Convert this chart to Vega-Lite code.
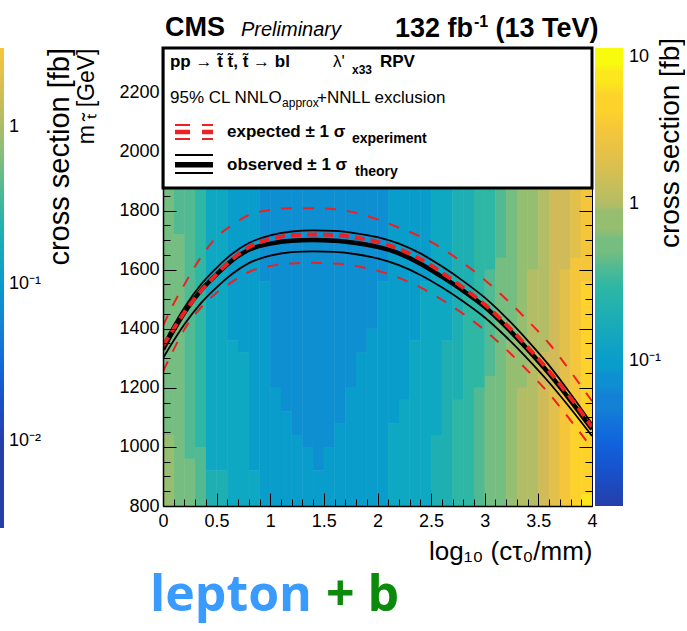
{
  "$schema": "https://vega.github.io/schema/vega-lite/v6.json",
  "padding": {"left": 0, "top": 14, "right": 0, "bottom": 12},
  "config": {
    "view": {"stroke": null},
    "font": "Liberation Sans",
    "axis": {"labelFont": "Liberation Sans", "titleFont": "Liberation Sans", "labelColor": "black", "titleColor": "black", "tickColor": "black", "domainColor": "black", "grid": false, "titleFontWeight": "normal"},
    "legend": {"labelFont": "Liberation Sans", "labelColor": "black", "padding": 0}
  },
  "datasets": {
    "heat": [
      {"x0":0,"x1":0.1,"m0":800,"m1":1040,"xs":0.798},{"x0":0,"x1":0.1,"m0":1040,"m1":1880,"xs":0.57},
      {"x0":0.1,"x1":0.2,"m0":800,"m1":1720,"xs":0.57},{"x0":0.1,"x1":0.2,"m0":1720,"m1":1880,"xs":0.407},
      {"x0":0.2,"x1":0.3,"m0":800,"m1":960,"xs":0.57},{"x0":0.2,"x1":0.3,"m0":960,"m1":1880,"xs":0.407},
      {"x0":0.3,"x1":0.4,"m0":800,"m1":1000,"xs":0.407},{"x0":0.3,"x1":0.4,"m0":1000,"m1":1880,"xs":0.29},
      {"x0":0.4,"x1":0.5,"m0":800,"m1":920,"xs":0.207},{"x0":0.4,"x1":0.5,"m0":920,"m1":1880,"xs":0.148},
      {"x0":0.5,"x1":0.6,"m0":800,"m1":920,"xs":0.207},{"x0":0.5,"x1":0.6,"m0":920,"m1":1880,"xs":0.148},
      {"x0":0.6,"x1":0.7,"m0":800,"m1":1360,"xs":0.148},{"x0":0.6,"x1":0.7,"m0":1360,"m1":1880,"xs":0.106},
      {"x0":0.7,"x1":0.8,"m0":800,"m1":1320,"xs":0.148},{"x0":0.7,"x1":0.8,"m0":1320,"m1":1880,"xs":0.106},
      {"x0":0.8,"x1":0.9,"m0":800,"m1":920,"xs":0.148},{"x0":0.8,"x1":0.9,"m0":920,"m1":1880,"xs":0.106},
      {"x0":0.9,"x1":1.0,"m0":800,"m1":1560,"xs":0.106},{"x0":0.9,"x1":1.0,"m0":1560,"m1":1880,"xs":0.0754},
      {"x0":1.0,"x1":1.1,"m0":800,"m1":1200,"xs":0.106},{"x0":1.0,"x1":1.1,"m0":1200,"m1":1880,"xs":0.0754},
      {"x0":1.1,"x1":1.2,"m0":800,"m1":1120,"xs":0.106},{"x0":1.1,"x1":1.2,"m0":1120,"m1":1880,"xs":0.0754},
      {"x0":1.2,"x1":1.3,"m0":800,"m1":1040,"xs":0.106},{"x0":1.2,"x1":1.3,"m0":1040,"m1":1880,"xs":0.0754},
      {"x0":1.3,"x1":1.4,"m0":800,"m1":1000,"xs":0.106},{"x0":1.3,"x1":1.4,"m0":1000,"m1":1880,"xs":0.0754},
      {"x0":1.4,"x1":1.5,"m0":800,"m1":920,"xs":0.106},{"x0":1.4,"x1":1.5,"m0":920,"m1":1880,"xs":0.0754},
      {"x0":1.5,"x1":1.6,"m0":800,"m1":1000,"xs":0.106},{"x0":1.5,"x1":1.6,"m0":1000,"m1":1880,"xs":0.0754},
      {"x0":1.6,"x1":1.7,"m0":800,"m1":1080,"xs":0.106},{"x0":1.6,"x1":1.7,"m0":1080,"m1":1880,"xs":0.0754},
      {"x0":1.7,"x1":1.8,"m0":800,"m1":1200,"xs":0.106},{"x0":1.7,"x1":1.8,"m0":1200,"m1":1880,"xs":0.0754},
      {"x0":1.8,"x1":1.9,"m0":800,"m1":1320,"xs":0.106},{"x0":1.8,"x1":1.9,"m0":1320,"m1":1880,"xs":0.0754},
      {"x0":1.9,"x1":2.0,"m0":800,"m1":1400,"xs":0.106},{"x0":1.9,"x1":2.0,"m0":1400,"m1":1880,"xs":0.0754},
      {"x0":2.0,"x1":2.1,"m0":800,"m1":1560,"xs":0.106},{"x0":2.0,"x1":2.1,"m0":1560,"m1":1880,"xs":0.0754},
      {"x0":2.1,"x1":2.2,"m0":800,"m1":1080,"xs":0.148},{"x0":2.1,"x1":2.2,"m0":1080,"m1":1880,"xs":0.106},
      {"x0":2.2,"x1":2.3,"m0":800,"m1":1160,"xs":0.148},{"x0":2.2,"x1":2.3,"m0":1160,"m1":1880,"xs":0.106},
      {"x0":2.3,"x1":2.4,"m0":800,"m1":1360,"xs":0.148},{"x0":2.3,"x1":2.4,"m0":1360,"m1":1880,"xs":0.106},
      {"x0":2.4,"x1":2.5,"m0":800,"m1":1560,"xs":0.148},{"x0":2.4,"x1":2.5,"m0":1560,"m1":1880,"xs":0.106},
      {"x0":2.5,"x1":2.6,"m0":800,"m1":1040,"xs":0.207},{"x0":2.5,"x1":2.6,"m0":1040,"m1":1880,"xs":0.148},
      {"x0":2.6,"x1":2.7,"m0":800,"m1":1360,"xs":0.207},{"x0":2.6,"x1":2.7,"m0":1360,"m1":1880,"xs":0.148},
      {"x0":2.7,"x1":2.8,"m0":800,"m1":1160,"xs":0.29},{"x0":2.7,"x1":2.8,"m0":1160,"m1":1880,"xs":0.207},
      {"x0":2.8,"x1":2.9,"m0":800,"m1":1520,"xs":0.29},{"x0":2.8,"x1":2.9,"m0":1520,"m1":1880,"xs":0.207},
      {"x0":2.9,"x1":3.0,"m0":800,"m1":1200,"xs":0.407},{"x0":2.9,"x1":3.0,"m0":1200,"m1":1880,"xs":0.29},
      {"x0":3.0,"x1":3.1,"m0":800,"m1":1240,"xs":0.57},{"x0":3.0,"x1":3.1,"m0":1240,"m1":1600,"xs":0.407},{"x0":3.0,"x1":3.1,"m0":1600,"m1":1880,"xs":0.29},
      {"x0":3.1,"x1":3.2,"m0":800,"m1":1640,"xs":0.57},{"x0":3.1,"x1":3.2,"m0":1640,"m1":1880,"xs":0.407},
      {"x0":3.2,"x1":3.3,"m0":800,"m1":1360,"xs":0.798},{"x0":3.2,"x1":3.3,"m0":1360,"m1":1880,"xs":0.57},
      {"x0":3.3,"x1":3.4,"m0":800,"m1":1200,"xs":1.12},{"x0":3.3,"x1":3.4,"m0":1200,"m1":1880,"xs":0.798},
      {"x0":3.4,"x1":3.5,"m0":800,"m1":1600,"xs":1.12},{"x0":3.4,"x1":3.5,"m0":1600,"m1":1880,"xs":0.798},
      {"x0":3.5,"x1":3.6,"m0":800,"m1":1320,"xs":1.57},{"x0":3.5,"x1":3.6,"m0":1320,"m1":1880,"xs":1.12},
      {"x0":3.6,"x1":3.7,"m0":800,"m1":1200,"xs":2.19},{"x0":3.6,"x1":3.7,"m0":1200,"m1":1880,"xs":1.57},
      {"x0":3.7,"x1":3.8,"m0":800,"m1":1200,"xs":3.07},{"x0":3.7,"x1":3.8,"m0":1200,"m1":1600,"xs":2.19},{"x0":3.7,"x1":3.8,"m0":1600,"m1":1880,"xs":1.57},
      {"x0":3.8,"x1":3.9,"m0":800,"m1":1120,"xs":4.31},{"x0":3.8,"x1":3.9,"m0":1120,"m1":1640,"xs":3.07},{"x0":3.8,"x1":3.9,"m0":1640,"m1":1880,"xs":2.19},
      {"x0":3.9,"x1":4.0,"m0":800,"m1":840,"xs":6.03},{"x0":3.9,"x1":4.0,"m0":840,"m1":1560,"xs":4.31},{"x0":3.9,"x1":4.0,"m0":1560,"m1":1880,"xs":3.07}
    ],
    "curves": [
      {"c":"obs","x":0,"m":1330},{"c":"obs","x":0.1,"m":1395},{"c":"obs","x":0.2,"m":1455},{"c":"obs","x":0.35,"m":1528},{"c":"obs","x":0.5,"m":1584},{"c":"obs","x":0.65,"m":1633},{"c":"obs","x":0.8,"m":1667},{"c":"obs","x":1,"m":1688},{"c":"obs","x":1.2,"m":1698},{"c":"obs","x":1.4,"m":1700},{"c":"obs","x":1.6,"m":1698},{"c":"obs","x":1.8,"m":1690},{"c":"obs","x":2,"m":1677},{"c":"obs","x":2.2,"m":1655},{"c":"obs","x":2.4,"m":1620},{"c":"obs","x":2.6,"m":1576},{"c":"obs","x":2.8,"m":1528},{"c":"obs","x":3,"m":1474},{"c":"obs","x":3.2,"m":1406},{"c":"obs","x":3.4,"m":1330},{"c":"obs","x":3.6,"m":1248},{"c":"obs","x":3.8,"m":1157},{"c":"obs","x":4,"m":1060},
      {"c":"exp","x":0,"m":1342},{"c":"exp","x":0.1,"m":1400},{"c":"exp","x":0.2,"m":1456},{"c":"exp","x":0.35,"m":1526},{"c":"exp","x":0.5,"m":1585},{"c":"exp","x":0.65,"m":1637},{"c":"exp","x":0.8,"m":1676},{"c":"exp","x":1,"m":1703},{"c":"exp","x":1.2,"m":1716},{"c":"exp","x":1.4,"m":1719},{"c":"exp","x":1.6,"m":1717},{"c":"exp","x":1.8,"m":1708},{"c":"exp","x":2,"m":1694},{"c":"exp","x":2.2,"m":1670},{"c":"exp","x":2.4,"m":1636},{"c":"exp","x":2.6,"m":1590},{"c":"exp","x":2.8,"m":1538},{"c":"exp","x":3,"m":1482},{"c":"exp","x":3.2,"m":1414},{"c":"exp","x":3.4,"m":1338},{"c":"exp","x":3.6,"m":1256},{"c":"exp","x":3.8,"m":1166},{"c":"exp","x":4,"m":1068},
      {"c":"obsUp","x":0,"m":1345},{"c":"obsUp","x":0.1,"m":1412},{"c":"obsUp","x":0.2,"m":1472},{"c":"obsUp","x":0.35,"m":1548},{"c":"obsUp","x":0.5,"m":1606},{"c":"obsUp","x":0.65,"m":1655},{"c":"obsUp","x":0.8,"m":1690},{"c":"obsUp","x":1,"m":1716},{"c":"obsUp","x":1.2,"m":1729},{"c":"obsUp","x":1.4,"m":1733},{"c":"obsUp","x":1.6,"m":1731},{"c":"obsUp","x":1.8,"m":1723},{"c":"obsUp","x":2,"m":1710},{"c":"obsUp","x":2.2,"m":1688},{"c":"obsUp","x":2.4,"m":1655},{"c":"obsUp","x":2.6,"m":1611},{"c":"obsUp","x":2.8,"m":1561},{"c":"obsUp","x":3,"m":1505},{"c":"obsUp","x":3.2,"m":1437},{"c":"obsUp","x":3.4,"m":1360},{"c":"obsUp","x":3.6,"m":1276},{"c":"obsUp","x":3.8,"m":1180},{"c":"obsUp","x":4,"m":1078},
      {"c":"obsDown","x":0,"m":1300},{"c":"obsDown","x":0.1,"m":1360},{"c":"obsDown","x":0.2,"m":1415},{"c":"obsDown","x":0.35,"m":1485},{"c":"obsDown","x":0.5,"m":1540},{"c":"obsDown","x":0.65,"m":1587},{"c":"obsDown","x":0.8,"m":1622},{"c":"obsDown","x":1,"m":1647},{"c":"obsDown","x":1.2,"m":1659},{"c":"obsDown","x":1.4,"m":1662},{"c":"obsDown","x":1.6,"m":1660},{"c":"obsDown","x":1.8,"m":1652},{"c":"obsDown","x":2,"m":1638},{"c":"obsDown","x":2.2,"m":1615},{"c":"obsDown","x":2.4,"m":1582},{"c":"obsDown","x":2.6,"m":1540},{"c":"obsDown","x":2.8,"m":1492},{"c":"obsDown","x":3,"m":1438},{"c":"obsDown","x":3.2,"m":1372},{"c":"obsDown","x":3.4,"m":1298},{"c":"obsDown","x":3.6,"m":1218},{"c":"obsDown","x":3.8,"m":1130},{"c":"obsDown","x":4,"m":1037},
      {"c":"expUp","x":0,"m":1410},{"c":"expUp","x":0.1,"m":1485},{"c":"expUp","x":0.2,"m":1550},{"c":"expUp","x":0.35,"m":1640},{"c":"expUp","x":0.5,"m":1710},{"c":"expUp","x":0.65,"m":1752},{"c":"expUp","x":0.8,"m":1785},{"c":"expUp","x":1,"m":1802},{"c":"expUp","x":1.2,"m":1808},{"c":"expUp","x":1.4,"m":1808},{"c":"expUp","x":1.6,"m":1804},{"c":"expUp","x":1.8,"m":1792},{"c":"expUp","x":2,"m":1770},{"c":"expUp","x":2.2,"m":1742},{"c":"expUp","x":2.4,"m":1712},{"c":"expUp","x":2.6,"m":1672},{"c":"expUp","x":2.8,"m":1622},{"c":"expUp","x":3,"m":1565},{"c":"expUp","x":3.2,"m":1500},{"c":"expUp","x":3.4,"m":1428},{"c":"expUp","x":3.6,"m":1350},{"c":"expUp","x":3.8,"m":1255},{"c":"expUp","x":4,"m":1155},
      {"c":"expDown","x":0,"m":1255},{"c":"expDown","x":0.1,"m":1330},{"c":"expDown","x":0.2,"m":1398},{"c":"expDown","x":0.35,"m":1470},{"c":"expDown","x":0.5,"m":1522},{"c":"expDown","x":0.65,"m":1560},{"c":"expDown","x":0.8,"m":1592},{"c":"expDown","x":1,"m":1612},{"c":"expDown","x":1.2,"m":1621},{"c":"expDown","x":1.4,"m":1623},{"c":"expDown","x":1.6,"m":1621},{"c":"expDown","x":1.8,"m":1612},{"c":"expDown","x":2,"m":1596},{"c":"expDown","x":2.2,"m":1572},{"c":"expDown","x":2.4,"m":1540},{"c":"expDown","x":2.6,"m":1498},{"c":"expDown","x":2.8,"m":1450},{"c":"expDown","x":3,"m":1395},{"c":"expDown","x":3.2,"m":1330},{"c":"expDown","x":3.4,"m":1258},{"c":"expDown","x":3.6,"m":1180},{"c":"expDown","x":3.8,"m":1090},{"c":"expDown","x":4,"m":995}
    ],
    "strip": [
      {"v":0.00333},{"v":0.0136},{"v":0.0791},{"v":0.324},{"v":1.3},{"v":2.68}
    ]
  },
  "width": 429,
  "height": 458,
  "layer": [
    {
      "data": {"name": "heat"},
      "mark": {"type": "rect"},
      "encoding": {
        "x": {"field": "x0", "type": "quantitative", "scale": {"domain": [0, 4], "nice": false, "zero": false},
              "axis": {"orient": "bottom", "values": [0,0.5,1,1.5,2,2.5,3,3.5,4], "format": "~g", "ticks": false, "domain": true, "domainWidth": 1.5, "labelFontSize": 18, "labelPadding": 6, "labelFlush": false, "labelOverlap": false, "title": "log\u2081\u2080 (c\u03c4\u2080/mm)", "titleFontSize": 26, "titleAnchor": "end", "titlePadding": 8, "zindex": 1}},
        "x2": {"field": "x1"},
        "y": {"field": "m0", "type": "quantitative", "scale": {"domain": [800, 2350], "nice": false, "zero": false},
              "axis": {"orient": "left", "values": [800,1000,1200,1400,1600,1800,2000,2200], "format": "d", "ticks": false, "domain": true, "domainWidth": 1.5, "labelFontSize": 18, "labelPadding": 4, "labelOverlap": false, "title": "m  \u209c\u0303  [GeV]", "titleFontSize": 23, "titleAnchor": "end", "titlePadding": 20, "zindex": 1}},
        "y2": {"field": "m1"},
        "color": {"field": "xs", "type": "quantitative",
                  "scale": {"type": "log", "interpolate": "rgb", "domain": [0.0118,0.01649,0.0165,0.02319,0.0232,0.03249,0.0325,0.04549,0.0455,0.06369,0.0637,0.08919,0.0892,0.12499,0.125,0.17499,0.175,0.24499,0.245,0.34399,0.344,0.48099,0.481,0.67399,0.674,0.94499,0.945,1.3199,1.32,1.8499,1.85,2.5999,2.6,3.6399,3.64,5.0999,5.1,7.1399,7.14,10],
                            "range": ["#263eaa","#263eaa","#1752cc","#1752cc","#1063dc","#1063dc","#1272d9","#1272d9","#1481d6","#1481d6","#0e8fd1","#0e8fd1","#099dcc","#099dcc","#0ea8c2","#0ea8c2","#1eafb3","#1eafb3","#2eb7a4","#2eb7a4","#52ba92","#52ba92","#75bd80","#75bd80","#96be71","#96be71","#b3bd65","#b3bd65","#d1bb59","#d1bb59","#e3c04a","#e3c04a","#f5c63a","#f5c63a","#fdd32b","#fdd32b","#fbe71c","#fbe71c","#f9fb0e","#f9fb0e"]},
                  "legend": {"type": "gradient", "direction": "vertical", "orient": "none", "legendX": 432, "legendY": 0, "gradientLength": 458, "gradientThickness": 28, "gradientStrokeWidth": 0, "values": [0.1, 1, 10], "labelExpr": "datum.value > 5 ? '10' : datum.value > 0.5 ? '1' : '10\u207b\u00b9'", "labelFontSize": 18, "labelOffset": 6, "labelOverlap": false, "labelBaseline": "middle", "title": null}}
      }
    },
    {
      "data": {"name": "heat"},
      "mark": {"type": "rect"},
      "encoding": {
        "x": {"field": "x0", "type": "quantitative", "scale": {"domain": [0, 4], "nice": false, "zero": false}, "axis": null},
        "x2": {"field": "x1"},
        "y": {"field": "m0", "type": "quantitative", "scale": {"domain": [800, 2350], "nice": false, "zero": false}, "axis": null},
        "y2": {"field": "m1"},
        "color": {"field": "xs", "type": "quantitative"}
      }
    },
    {
      "data": {"name": "strip"},
      "mark": {"type": "point", "fillOpacity": 0, "strokeOpacity": 0, "filled": true},
      "encoding": {
        "fill": {"field": "v", "type": "quantitative",
                 "scale": {"type": "log", "interpolate": "rgb", "domain": [0.0028,0.014,0.0196,0.0274,0.0384,0.0538,0.0754,0.106,0.148,0.207,0.29,0.407,0.57,0.798,1.12,1.57,2.19,3.2],
                           "range": ["#263eaa","#263eaa","#1752cc","#1063dc","#1272d9","#1481d6","#0e8fd1","#099dcc","#0ea8c2","#1eafb3","#2eb7a4","#52ba92","#75bd80","#96be71","#b3bd65","#d1bb59","#e3c04a","#f5c63a"]},
                 "legend": {"type": "gradient", "direction": "vertical", "orient": "none", "legendX": -163, "legendY": 0, "gradientLength": 480, "gradientThickness": 4, "gradientStrokeWidth": 0, "values": [0.01, 0.1, 1], "labelExpr": "datum.value > 0.5 ? '1' : datum.value > 0.05 ? '10\u207b\u00b9' : '10\u207b\u00b2'", "labelFontSize": 18, "labelOffset": 5, "labelOverlap": false, "labelBaseline": "middle", "title": null}}
      }
    },
    {
      "data": {"name": "curves"},
      "transform": [{"filter": "datum.c == 'obsUp' || datum.c == 'obsDown'"}],
      "mark": {"type": "line", "color": "black", "strokeWidth": 1.8, "interpolate": "monotone", "clip": true},
      "encoding": {
        "x": {"field": "x", "type": "quantitative", "scale": {"domain": [0, 4], "nice": false, "zero": false},
              "axis": {"orient": "bottom", "offset": -7, "values": [0.1,0.2,0.3,0.4,0.6,0.7,0.8,0.9,1.1,1.2,1.3,1.4,1.6,1.7,1.8,1.9,2.1,2.2,2.3,2.4,2.6,2.7,2.8,2.9,3.1,3.2,3.3,3.4,3.6,3.7,3.8,3.9], "ticks": true, "tickSize": 7, "tickWidth": 1, "labels": false, "domain": false, "title": null, "zindex": 1}},
        "y": {"field": "m", "type": "quantitative", "scale": {"domain": [800, 2350], "nice": false, "zero": false},
              "axis": {"orient": "left", "offset": -7, "values": [850,900,950,1050,1100,1150,1250,1300,1350,1450,1500,1550,1650,1700,1750,1850], "ticks": true, "tickSize": 7, "tickWidth": 1, "labels": false, "domain": false, "title": null, "zindex": 1}},
        "detail": {"field": "c"}
      }
    },
    {
      "data": {"name": "curves"},
      "transform": [{"filter": "datum.c == 'obs'"}],
      "mark": {"type": "line", "color": "black", "strokeWidth": 4.5, "interpolate": "monotone", "clip": true},
      "encoding": {
        "x": {"field": "x", "type": "quantitative", "scale": {"domain": [0, 4], "nice": false, "zero": false},
              "axis": {"orient": "bottom", "offset": -13, "values": [0,0.5,1,1.5,2,2.5,3,3.5,4], "ticks": true, "tickSize": 13, "tickWidth": 1, "labels": false, "domain": false, "title": null, "zindex": 1}},
        "y": {"field": "m", "type": "quantitative", "scale": {"domain": [800, 2350], "nice": false, "zero": false},
              "axis": {"orient": "left", "offset": -13, "values": [800,1000,1200,1400,1600,1800], "ticks": true, "tickSize": 13, "tickWidth": 1, "labels": false, "domain": false, "title": null, "zindex": 1}}
      }
    },
    {
      "data": {"name": "curves"},
      "transform": [{"filter": "datum.c == 'expUp' || datum.c == 'expDown'"}],
      "mark": {"type": "line", "color": "#ee2020", "strokeWidth": 2, "strokeDash": [11, 11], "interpolate": "monotone", "clip": true},
      "encoding": {
        "x": {"field": "x", "type": "quantitative", "scale": {"domain": [0, 4], "nice": false, "zero": false}, "axis": null},
        "y": {"field": "m", "type": "quantitative", "scale": {"domain": [800, 2350], "nice": false, "zero": false},
              "axis": {"orient": "right", "offset": -7, "values": [850,900,950,1050,1100,1150,1250,1300,1350,1450,1500,1550,1650,1700,1750,1850], "ticks": true, "tickSize": 7, "tickWidth": 1, "labels": false, "domain": false, "title": null, "zindex": 1}},
        "detail": {"field": "c"}
      }
    },
    {
      "data": {"name": "curves"},
      "transform": [{"filter": "datum.c == 'exp'"}],
      "mark": {"type": "line", "color": "#ee2020", "strokeWidth": 4, "strokeDash": [10, 6], "interpolate": "monotone", "clip": true},
      "encoding": {
        "x": {"field": "x", "type": "quantitative", "scale": {"domain": [0, 4], "nice": false, "zero": false}, "axis": null},
        "y": {"field": "m", "type": "quantitative", "scale": {"domain": [800, 2350], "nice": false, "zero": false},
              "axis": {"orient": "right", "offset": -13, "values": [800,1000,1200,1400,1600,1800], "ticks": true, "tickSize": 13, "tickWidth": 1, "labels": false, "domain": false, "title": null, "zindex": 1}}
      }
    },
    {
      "data": {"values": [{}]},
      "mark": {"type": "rect", "fill": "white", "stroke": "black", "strokeWidth": 3},
      "encoding": {
        "x": {"datum": 0, "type": "quantitative", "axis": null},
        "x2": {"datum": 4},
        "y": {"datum": 1876, "type": "quantitative", "axis": {"orient": "right", "ticks": false, "labels": false, "domain": true, "domainWidth": 1, "title": null, "zindex": 1}},
        "y2": {"datum": 2350}
      }
    },
    {
      "data": {"values": [{}]},
      "mark": {"type": "rule", "color": "#ee2020", "strokeWidth": 2, "strokeDash": [15, 12]},
      "encoding": {"x": {"datum": 0.112, "type": "quantitative", "axis": null}, "x2": {"datum": 0.466}, "y": {"datum": 2089, "type": "quantitative", "axis": null}}
    },
    {
      "data": {"values": [{}]},
      "mark": {"type": "rule", "color": "#ee2020", "strokeWidth": 4.5, "strokeDash": [15, 12]},
      "encoding": {"x": {"datum": 0.112, "type": "quantitative", "axis": null}, "x2": {"datum": 0.466}, "y": {"datum": 2066, "type": "quantitative", "axis": null}}
    },
    {
      "data": {"values": [{}]},
      "mark": {"type": "rule", "color": "#ee2020", "strokeWidth": 2, "strokeDash": [15, 12]},
      "encoding": {"x": {"datum": 0.112, "type": "quantitative", "axis": null}, "x2": {"datum": 0.466}, "y": {"datum": 2042, "type": "quantitative", "axis": null}}
    },
    {
      "data": {"values": [{}]},
      "mark": {"type": "rule", "color": "black", "strokeWidth": 2},
      "encoding": {"x": {"datum": 0.112, "type": "quantitative", "axis": null}, "x2": {"datum": 0.466}, "y": {"datum": 1988, "type": "quantitative", "axis": null}}
    },
    {
      "data": {"values": [{}]},
      "mark": {"type": "rule", "color": "black", "strokeWidth": 5.5},
      "encoding": {"x": {"datum": 0.112, "type": "quantitative", "axis": null}, "x2": {"datum": 0.466}, "y": {"datum": 1955, "type": "quantitative", "axis": null}}
    },
    {
      "data": {"values": [{}]},
      "mark": {"type": "rule", "color": "black", "strokeWidth": 2},
      "encoding": {"x": {"datum": 0.112, "type": "quantitative", "axis": null}, "x2": {"datum": 0.466}, "y": {"datum": 1927, "type": "quantitative", "axis": null}}
    },
    {
      "data": {"values": [{}]},
      "mark": {"type": "text", "text": "pp \u2192 t\u0303 t\u0303, t\u0303 \u2192 bl", "fontSize": 17, "fontWeight": "bold", "align": "left", "baseline": "alphabetic", "color": "black"},
      "encoding": {"x": {"datum": 0.065, "type": "quantitative", "axis": null}, "y": {"datum": 2286, "type": "quantitative", "axis": null}}
    },
    {
      "data": {"values": [{}]},
      "mark": {"type": "text", "text": "\u03bb'", "fontSize": 17, "align": "left", "baseline": "alphabetic", "color": "black"},
      "encoding": {"x": {"datum": 1.585, "type": "quantitative", "axis": null}, "y": {"datum": 2286, "type": "quantitative", "axis": null}}
    },
    {
      "data": {"values": [{}]},
      "mark": {"type": "text", "text": "x33", "fontSize": 12, "fontWeight": "bold", "align": "left", "baseline": "alphabetic", "color": "black"},
      "encoding": {"x": {"datum": 1.762, "type": "quantitative", "axis": null}, "y": {"datum": 2262, "type": "quantitative", "axis": null}}
    },
    {
      "data": {"values": [{}]},
      "mark": {"type": "text", "text": "RPV", "fontSize": 17, "fontWeight": "bold", "align": "left", "baseline": "alphabetic", "color": "black"},
      "encoding": {"x": {"datum": 2.023, "type": "quantitative", "axis": null}, "y": {"datum": 2286, "type": "quantitative", "axis": null}}
    },
    {
      "data": {"values": [{}]},
      "mark": {"type": "text", "text": "95% CL NNLO", "fontSize": 17, "align": "left", "baseline": "alphabetic", "color": "black"},
      "encoding": {"x": {"datum": 0.065, "type": "quantitative", "axis": null}, "y": {"datum": 2164, "type": "quantitative", "axis": null}}
    },
    {
      "data": {"values": [{}]},
      "mark": {"type": "text", "text": "approx", "fontSize": 12, "align": "left", "baseline": "alphabetic", "color": "black"},
      "encoding": {"x": {"datum": 1.11, "type": "quantitative", "axis": null}, "y": {"datum": 2150, "type": "quantitative", "axis": null}}
    },
    {
      "data": {"values": [{}]},
      "mark": {"type": "text", "text": "+NNLL exclusion", "fontSize": 17, "align": "left", "baseline": "alphabetic", "color": "black"},
      "encoding": {"x": {"datum": 1.436, "type": "quantitative", "axis": null}, "y": {"datum": 2164, "type": "quantitative", "axis": null}}
    },
    {
      "data": {"values": [{}]},
      "mark": {"type": "text", "text": "expected \u00b1 1 \u03c3", "fontSize": 17, "fontWeight": "bold", "align": "left", "baseline": "alphabetic", "color": "black"},
      "encoding": {"x": {"datum": 0.597, "type": "quantitative", "axis": null}, "y": {"datum": 2049, "type": "quantitative", "axis": null}}
    },
    {
      "data": {"values": [{}]},
      "mark": {"type": "text", "text": "experiment", "fontSize": 14, "fontWeight": "bold", "align": "left", "baseline": "alphabetic", "color": "black"},
      "encoding": {"x": {"datum": 1.762, "type": "quantitative", "axis": null}, "y": {"datum": 2028, "type": "quantitative", "axis": null}}
    },
    {
      "data": {"values": [{}]},
      "mark": {"type": "text", "text": "observed \u00b1 1 \u03c3", "fontSize": 17, "fontWeight": "bold", "align": "left", "baseline": "alphabetic", "color": "black"},
      "encoding": {"x": {"datum": 0.597, "type": "quantitative", "axis": null}, "y": {"datum": 1937, "type": "quantitative", "axis": null}}
    },
    {
      "data": {"values": [{}]},
      "mark": {"type": "text", "text": "theory", "fontSize": 14, "fontWeight": "bold", "align": "left", "baseline": "alphabetic", "color": "black"},
      "encoding": {"x": {"datum": 1.79, "type": "quantitative", "axis": null}, "y": {"datum": 1917, "type": "quantitative", "axis": null}}
    },
    {
      "data": {"values": [{}]},
      "mark": {"type": "text", "text": "CMS", "fontSize": 27, "fontWeight": "bold", "align": "left", "baseline": "alphabetic", "color": "black"},
      "encoding": {"x": {"datum": 0.019, "type": "quantitative", "axis": null}, "y": {"datum": 2390, "type": "quantitative", "axis": null}}
    },
    {
      "data": {"values": [{}]},
      "mark": {"type": "text", "text": "Preliminary", "fontSize": 20, "fontStyle": "italic", "align": "left", "baseline": "alphabetic", "color": "black"},
      "encoding": {"x": {"datum": 0.727, "type": "quantitative", "axis": null}, "y": {"datum": 2390, "type": "quantitative", "axis": null}}
    },
    {
      "data": {"values": [{}]},
      "mark": {"type": "text", "text": "132 fb", "fontSize": 27, "fontWeight": "bold", "align": "left", "baseline": "alphabetic", "color": "black"},
      "encoding": {"x": {"datum": 2.163, "type": "quantitative", "axis": null}, "y": {"datum": 2387, "type": "quantitative", "axis": null}}
    },
    {
      "data": {"values": [{}]},
      "mark": {"type": "text", "text": "-1", "fontSize": 16, "fontWeight": "bold", "align": "left", "baseline": "alphabetic", "color": "black"},
      "encoding": {"x": {"datum": 2.9, "type": "quantitative", "axis": null}, "y": {"datum": 2421, "type": "quantitative", "axis": null}}
    },
    {
      "data": {"values": [{}]},
      "mark": {"type": "text", "text": "(13 TeV)", "fontSize": 27, "fontWeight": "bold", "align": "left", "baseline": "alphabetic", "color": "black"},
      "encoding": {"x": {"datum": 3.1, "type": "quantitative", "axis": null}, "y": {"datum": 2387, "type": "quantitative", "axis": null}}
    },
    {
      "data": {"values": [{}]},
      "mark": {"type": "text", "text": "cross section [fb]", "fontSize": 28, "angle": 270, "align": "right", "baseline": "middle", "color": "black"},
      "encoding": {"x": {"datum": 4.735, "type": "quantitative", "axis": null}, "y": {"datum": 2384, "type": "quantitative", "axis": null}}
    },
    {
      "data": {"values": [{}]},
      "mark": {"type": "text", "text": "cross section [fb]", "fontSize": 29, "angle": 270, "align": "right", "baseline": "middle", "color": "black"},
      "encoding": {"x": {"datum": -0.96, "type": "quantitative", "axis": null}, "y": {"datum": 2350, "type": "quantitative", "axis": null}}
    },
    {
      "data": {"values": [{}]},
      "mark": {"type": "text", "text": "lepton", "font": "Open Sans", "fontSize": 50, "fontWeight": "bold", "align": "left", "baseline": "alphabetic", "color": "#3a9bff"},
      "encoding": {"x": {"datum": -0.121, "type": "quantitative", "axis": null}, "y": {"datum": 445, "type": "quantitative", "axis": null}}
    },
    {
      "data": {"values": [{}]},
      "mark": {"type": "text", "text": "+ b", "font": "Open Sans", "fontSize": 50, "fontWeight": "bold", "align": "left", "baseline": "alphabetic", "color": "#0b8a0b"},
      "encoding": {"x": {"datum": 1.52, "type": "quantitative", "axis": null}, "y": {"datum": 445, "type": "quantitative", "axis": null}}
    }
  ],
  "resolve": {"axis": {"x": "independent", "y": "independent"}}
}
